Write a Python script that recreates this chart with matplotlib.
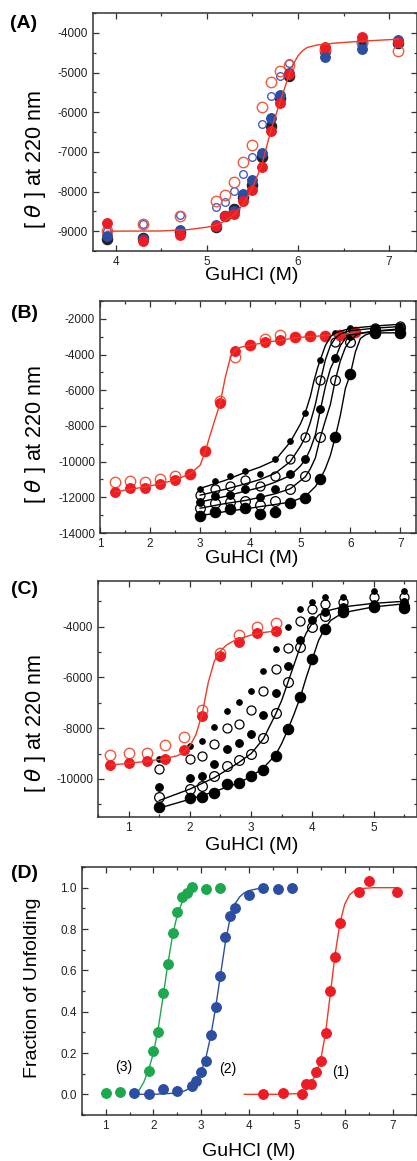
import matplotlib
matplotlib.use('Agg')
import matplotlib.pyplot as plt
from matplotlib.ticker import MultipleLocator

plt.rcParams['font.family'] = ['Liberation Sans', 'DejaVu Sans']
plt.rcParams['axes.unicode_minus'] = False

RED = '#ec1c24'
RED_LINE = '#f03a28'
RED_OPEN = '#f05a3c'
BLUE = '#2c4ea2'
BLUE_OPEN = '#4a5cc4'
GREEN = '#1ca84e'

# ---- panel A data ----
xa = [3.9, 4.3, 4.7, 5.1, 5.2, 5.3, 5.4, 5.5, 5.6, 5.7, 5.8, 5.9, 6.3, 6.7, 7.1]
a_black = [-9200, -9180, -9030, -8900, -8620, -8450, -8130, -7830, -7130, -6340, -5650, -5100, -4460, -4240, -4250]
a_blue = [-9130, -9200, -8980, -8850, -8620, -8500, -8070, -7710, -7030, -6140, -5570, -5020, -4600, -4410, -4190]
a_red = [-8790, -9250, -9100, -8880, -8620, -8570, -8250, -7960, -7370, -6480, -5760, -5050, -4350, -4100, -4230]
a_red_open = [-9000, -8830, -8610, -8250, -8090, -7760, -7250, -6820, -5860, -5230, -4960, -4800, -4400, -4250, -4450]
a_blue_open = [-9000, -8830, -8600, -8380, -8260, -7990, -7570, -7130, -6290, -5590, -5090, -4760, -4400, -4250, -4250]
fit_a_x = [3.9, 4.5, 4.8, 5.0, 5.1, 5.2, 5.3, 5.4, 5.5, 5.6, 5.7, 5.8, 5.9, 5.95, 6.0, 6.05, 6.1, 6.2, 6.4, 6.7, 7.1]
fit_a_y = [-9000, -8995, -8960, -8900, -8850, -8740, -8580, -8320, -7900, -7350, -6480, -5760, -5070, -4780,
           -4580, -4450, -4370, -4310, -4260, -4210, -4160]

# ---- panel B data ----
xb_red = [1.3, 1.6, 1.9, 2.2, 2.5, 2.8, 3.1, 3.4, 3.7, 4.0, 4.3, 4.6, 4.9, 5.2, 5.5, 5.8, 6.1]
b_red = [-11710, -11465, -11465, -11240, -11015, -10680, -9420, -6730, -3790, -3490, -3320, -3170, -3010, -2980, -2940, -2930, -2750]
b_red_open = [-11150, -11110, -11150, -10960, -10830, -10680, -9400, -6600, -4160, -3480, -3130, -2890, -3010, -2980, -2940, -2930, -2750]
fit_b_red_x = [1.3, 1.6, 1.9, 2.2, 2.5, 2.8, 3.0, 3.1, 3.2, 3.3, 3.4, 3.5, 3.6, 3.7, 3.8, 4.0, 4.3, 4.6, 4.9, 5.2, 5.5, 5.8, 6.1]
fit_b_red_y = [-11700, -11550, -11420, -11250, -11030, -10680, -10200, -9450, -8500, -7600, -6730, -5300, -4200, -3750,
               -3600, -3470, -3330, -3200, -3060, -2990, -2940, -2900, -2770]

xb = [3.0, 3.3, 3.6, 3.9, 4.2, 4.5, 4.8, 5.1, 5.4, 5.7, 6.0, 6.5, 7.0]
b1 = [-11520, -11110, -10830, -10545, -10680, -9870, -8840, -7260, -4290, -2780, -2510, -2450, -2380]
b2 = [-11860, -11520, -11375, -11055, -11375, -10810, -9870, -8640, -5420, -3320, -2750, -2500, -2420]
b3 = [-12275, -11935, -11860, -11520, -11990, -11540, -10715, -9880, -7070, -4180, -2950, -2700, -2600]
b4 = [-12615, -12310, -12275, -12180, -12420, -12180, -11540, -10810, -8610, -5420, -3320, -2600, -2500]
b5 = [-13065, -12800, -12650, -12590, -12930, -12840, -12330, -12050, -10950, -8600, -5090, -2790, -2790]

fit_b1_x = [3.0, 3.5, 3.9, 4.2, 4.5, 4.8, 5.0, 5.1, 5.2, 5.27, 5.35, 5.4, 5.5, 5.6, 5.7, 6.0, 6.5, 7.0]
fit_b1_y = [-11500, -11050, -10600, -10300, -9920, -8900, -7900, -7250, -6350, -5500, -4700, -4290, -3500, -3000, -2780, -2530, -2400, -2300]
fit_b2_x = [3.0, 3.5, 3.9, 4.2, 4.5, 4.8, 5.0, 5.1, 5.2, 5.3, 5.4, 5.5, 5.6, 5.7, 5.8, 6.0, 6.5, 7.0]
fit_b2_y = [-11880, -11550, -11250, -11000, -10650, -10000, -9150, -8620, -7800, -6800, -5500, -4300, -3500, -3080, -2850, -2660, -2520, -2430]
fit_b3_x = [3.0, 3.5, 3.9, 4.2, 4.5, 4.8, 5.0, 5.1, 5.2, 5.3, 5.4, 5.5, 5.6, 5.7, 5.8, 5.9, 6.0, 6.5, 7.0]
fit_b3_y = [-12260, -11950, -11650, -11450, -11150, -10780, -10250, -9880, -9300, -8500, -7100, -5800, -4800, -4200, -3500, -3100, -2900, -2700, -2600]
fit_b4_x = [3.0, 3.5, 3.9, 4.2, 4.5, 4.8, 5.1, 5.2, 5.3, 5.4, 5.5, 5.6, 5.7, 5.8, 5.9, 6.0, 6.1, 6.2, 6.5, 7.0]
fit_b4_y = [-12610, -12350, -12180, -12000, -11800, -11520, -10850, -10400, -9800, -8640, -7700, -6800, -5420, -4350,
            -3600, -3200, -2950, -2800, -2680, -2560]
fit_b5_x = [3.0, 3.5, 3.9, 4.2, 4.5, 4.8, 5.1, 5.3, 5.4, 5.5, 5.6, 5.7, 5.8, 5.9, 6.0, 6.1, 6.2, 6.3, 6.4, 6.5, 7.0]
fit_b5_y = [-13030, -12800, -12650, -12520, -12400, -12270, -11950, -11400, -10960, -10400, -9650, -8600, -7400, -5900,
            -5080, -3850, -3100, -2900, -2810, -2790, -2780]

# ---- panel C data ----
xc_red = [0.7, 1.0, 1.3, 1.6, 1.9, 2.2, 2.5, 2.8, 3.1, 3.4]
c_red = [-9450, -9380, -9280, -9210, -8860, -7530, -5140, -4620, -4260, -4160]
c_red_open = [-9040, -8990, -8990, -8650, -8360, -7270, -5050, -4320, -4000, -3860]
fit_c_red_x = [0.7, 1.0, 1.3, 1.6, 1.8, 1.9, 2.0, 2.1, 2.2, 2.3, 2.4, 2.5, 2.6, 2.7, 2.8, 3.0, 3.2, 3.4]
fit_c_red_y = [-9450, -9390, -9300, -9200, -9080, -8950, -8700, -8250, -7450, -6200, -5350, -4950, -4720, -4580,
               -4480, -4330, -4230, -4170]

xc = [1.5, 2.0, 2.2, 2.4, 2.6, 2.8, 3.0, 3.2, 3.4, 3.6, 3.8, 4.0, 4.2, 4.5, 5.0, 5.5]
c1 = [-9220, -8720, -8520, -7940, -7340, -6950, -6530, -5760, -4860, -4030, -3300, -3040, -2850, -2820, -2590, -2580]
c2 = [-9610, -9220, -9090, -8620, -8000, -7840, -7280, -6530, -5670, -4850, -3780, -3300, -3110, -3040, -2850, -2850]
c3 = [-10300, -9950, -9880, -9400, -8830, -8600, -8220, -7480, -6620, -5560, -4510, -3720, -3410, -3240, -3110, -3040]
c4 = [-10730, -10400, -10290, -9870, -9500, -9270, -9020, -8390, -7400, -6190, -4810, -4030, -3570, -3300, -3200, -3170]
c5 = [-11100, -10750, -10730, -10560, -10200, -10150, -9900, -9650, -9080, -8030, -6790, -5270, -4090, -3440, -3240, -3260]

fit_c4_x = [1.5, 2.0, 2.4, 2.8, 3.0, 3.2, 3.4, 3.5, 3.6, 3.7, 3.8, 3.9, 4.0, 4.1, 4.2, 4.5, 5.0, 5.5]
fit_c4_y = [-10850, -10400, -9950, -9350, -9000, -8420, -7450, -6900, -6200, -5500, -4800, -4250, -3850, -3550,
            -3400, -3220, -3080, -3000]
fit_c5_x = [1.5, 2.0, 2.4, 2.8, 3.0, 3.2, 3.4, 3.5, 3.6, 3.7, 3.8, 3.9, 4.0, 4.1, 4.2, 4.3, 4.5, 5.0, 5.5]
fit_c5_y = [-11150, -10800, -10500, -10150, -9900, -9570, -9050, -8600, -8050, -7450, -6800, -6000, -5270, -4550,
            -4080, -3750, -3450, -3220, -3100]

# ---- panel D data ----
xd_green = [1.0, 1.3, 1.9, 2.0, 2.1, 2.2, 2.3, 2.4, 2.5, 2.6, 2.7, 2.8, 3.1, 3.4]
d_green = [0.008, 0.011, 0.114, 0.209, 0.302, 0.489, 0.633, 0.783, 0.884, 0.955, 0.975, 1.005, 0.992, 0.998]
xd_blue = [1.6, 1.9, 2.2, 2.5, 2.8, 2.9, 3.0, 3.1, 3.2, 3.3, 3.4, 3.5, 3.6, 3.7, 4.0, 4.3, 4.6, 4.9]
d_blue = [0.007, 0.0, 0.024, 0.016, 0.041, 0.065, 0.106, 0.163, 0.285, 0.424, 0.571, 0.759, 0.865, 0.9, 0.966, 1.0, 0.995, 1.0]
xd_red = [4.3, 4.7, 5.1, 5.2, 5.3, 5.4, 5.5, 5.6, 5.7, 5.8, 5.9, 6.3, 6.5, 7.1]
d_red = [0.003, 0.008, 0.003, 0.049, 0.049, 0.106, 0.163, 0.299, 0.498, 0.666, 0.829, 0.979, 1.031, 0.979]

fit_d_green_x = [1.6, 1.7, 1.8, 1.9, 2.0, 2.1, 2.2, 2.3, 2.4, 2.5, 2.6, 2.7, 2.8, 2.9]
fit_d_green_y = [0.0, 0.02, 0.06, 0.12, 0.2, 0.32, 0.47, 0.63, 0.77, 0.87, 0.93, 0.965, 0.985, 0.995]
fit_d_blue_x = [1.6, 2.0, 2.4, 2.6, 2.7, 2.8, 2.9, 3.0, 3.1, 3.2, 3.3, 3.4, 3.5, 3.6, 3.7, 3.8, 3.9, 4.0, 4.2, 4.4]
fit_d_blue_y = [0.0, 0.0, 0.005, 0.012, 0.022, 0.04, 0.068, 0.11, 0.18, 0.285, 0.42, 0.575, 0.73, 0.85, 0.92, 0.955,
                0.975, 0.986, 0.996, 1.0]
fit_d_red_x = [3.9, 4.5, 5.0, 5.1, 5.2, 5.3, 5.4, 5.5, 5.6, 5.7, 5.8, 5.9, 6.0, 6.1, 6.2, 6.3, 6.6, 7.1]
fit_d_red_y = [0.0, 0.0, 0.003, 0.01, 0.025, 0.055, 0.1, 0.17, 0.3, 0.49, 0.68, 0.83, 0.92, 0.965, 0.985, 0.995, 1.0, 1.0]

W, H = 417, 1161
fig = plt.figure(figsize=(W / 100, H / 100), dpi=100)


def box(left, top, right, bottom):
    return [left / W, 1 - bottom / H, (right - left) / W, (bottom - top) / H]


def pt(x, y):
    return x / W, 1 - y / H


def style(ax, xmaj, ymaj):
    ax.xaxis.set_major_locator(MultipleLocator(xmaj))
    ax.xaxis.set_minor_locator(MultipleLocator(xmaj / 2))
    ax.yaxis.set_major_locator(MultipleLocator(ymaj))
    ax.yaxis.set_minor_locator(MultipleLocator(ymaj / 2))
    ax.tick_params(which='both', direction='in', top=True, right=True, width=0.9,
                   colors='#333333', labelcolor='#222222', labelsize=8.5)
    ax.tick_params(which='major', length=4)
    ax.tick_params(which='minor', length=2.5)
    for s in ax.spines.values():
        s.set_linewidth(1.1)
        s.set_color('#333333')


def dots(ax, x, y, ms, fc, ec, mew=0.8, z=3):
    ax.plot(x, y, 'o', ms=ms, mfc=fc, mec=ec, mew=mew, ls='none', zorder=z)


def labels(ylab, ycen, xcen_y, tag, tag_y):
    fig.text(*pt(35, ycen), ylab, rotation=90, ha='center', va='center', fontsize=15.5)
    fig.text(*pt(252, xcen_y), 'GuHCl (M)', ha='center', va='center', fontsize=14)
    fig.text(*pt(24, tag_y), tag, ha='center', va='center', fontsize=14, fontweight='bold')


theta = r'[ $\theta$ ] at 220 nm'

# (A)
ax = fig.add_axes(box(93, 13, 416.5, 251))
dots(ax, xa, a_black, 7.5, '#222222', '#222222', z=2)
dots(ax, xa, a_blue_open, 5.5, 'none', BLUE_OPEN, 1.0)
dots(ax, xa, a_red_open, 7.5, 'none', RED_OPEN, 1.0)
dots(ax, xa, a_blue, 7, BLUE, BLUE, z=4)
dots(ax, xa, a_red, 7, RED, RED, z=4)
ax.plot(fit_a_x, fit_a_y, color=RED_LINE, lw=1.0, zorder=5)
ax.set_xlim(3.75, 7.3)
ax.set_ylim(-9500, -3500)
style(ax, 1, 1000)
labels(theta, 159, 275, '(A)', 24)

# (B)
ax = fig.add_axes(box(100, 301, 415.5, 533))
dots(ax, xb_red, b_red_open, 7.5, 'none', RED_OPEN, 1.0)
dots(ax, xb_red, b_red, 7, RED, RED, z=4)
ax.plot(fit_b_red_x, fit_b_red_y, color=RED_LINE, lw=1.0, zorder=5)
dots(ax, xb, b1, 4, 'black', 'black')
dots(ax, xb, b2, 6.5, 'none', 'black', 0.9)
dots(ax, xb, b3, 5.5, 'black', 'black')
dots(ax, xb, b4, 7, 'none', 'black', 0.9)
dots(ax, xb, b5, 7.5, 'black', 'black')
for fx, fy in [(fit_b1_x, fit_b1_y), (fit_b2_x, fit_b2_y), (fit_b3_x, fit_b3_y),
               (fit_b4_x, fit_b4_y), (fit_b5_x, fit_b5_y)]:
    ax.plot(fx, fy, color='black', lw=1.0, zorder=5)
ax.set_xlim(1, 7.3)
ax.set_ylim(-14000, -1000)
style(ax, 1, 2000)
labels(theta, 434, 559, '(B)', 313)

# (C)
ax = fig.add_axes(box(98, 581, 416.5, 817))
dots(ax, xc_red, c_red_open, 7.5, 'none', RED_OPEN, 1.0)
dots(ax, xc_red, c_red, 7, RED, RED, z=4)
ax.plot(fit_c_red_x, fit_c_red_y, color=RED_LINE, lw=1.0, zorder=5)
dots(ax, xc, c1, 4, 'black', 'black')
dots(ax, xc, c2, 6.5, 'none', 'black', 0.9)
dots(ax, xc, c3, 5.5, 'black', 'black')
dots(ax, xc, c4, 7, 'none', 'black', 0.9)
dots(ax, xc, c5, 7.5, 'black', 'black')
ax.plot(fit_c4_x, fit_c4_y, color='black', lw=1.0, zorder=5)
ax.plot(fit_c5_x, fit_c5_y, color='black', lw=1.0, zorder=5)
ax.set_xlim(0.5, 5.7)
ax.set_ylim(-11500, -2200)
style(ax, 1, 2000)
labels(theta, 723, 845, '(C)', 590)

# (D)
ax = fig.add_axes(box(81.7, 867, 416.5, 1115))
ax.plot(fit_d_green_x, fit_d_green_y, color=GREEN, lw=1.0, zorder=2)
ax.plot(fit_d_blue_x, fit_d_blue_y, color=BLUE, lw=1.0, zorder=2)
ax.plot(fit_d_red_x, fit_d_red_y, color=RED_LINE, lw=1.0, zorder=2)
dots(ax, xd_green, d_green, 7, GREEN, GREEN)
dots(ax, xd_blue, d_blue, 7, BLUE, BLUE)
dots(ax, xd_red, d_red, 7, RED, RED)
ax.text(5.91, 0.106, '(1)', ha='center', va='center', fontsize=10)
ax.text(3.55, 0.122, '(2)', ha='center', va='center', fontsize=10)
ax.text(1.38, 0.13, '(3)', ha='center', va='center', fontsize=10)
ax.set_xlim(0.5, 7.5)
ax.set_ylim(-0.1, 1.1)
style(ax, 1, 0.2)
ax.yaxis.set_major_formatter(plt.FuncFormatter(lambda v, p: f'{v:.1f}'))
fig.text(*pt(33, 988), 'Fraction of Unfolding', rotation=90, ha='center', va='center', fontsize=14)
fig.text(*pt(249, 1152), 'GuHCl (M)', ha='center', va='center', fontsize=14)
fig.text(*pt(24, 873), '(D)', ha='center', va='center', fontsize=14, fontweight='bold')

fig.savefig('out.png', dpi=100)
